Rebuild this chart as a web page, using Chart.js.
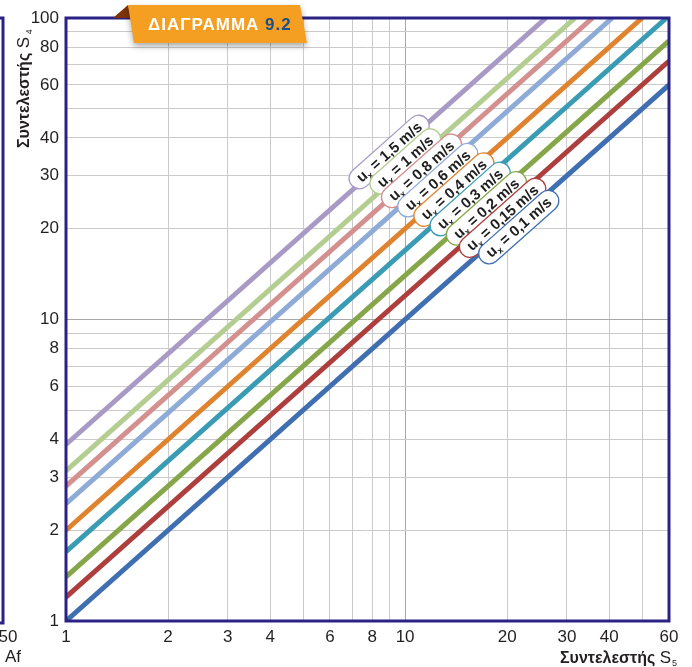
<!DOCTYPE html>
<html>
<head>
<meta charset="utf-8">
<script src="https://cdn.jsdelivr.net/npm/chart.js@4/dist/chart.umd.min.js"></script>
<style>
  html, body { margin: 0; padding: 0; background: #fff; }
  #wrap { width: 692px; height: 667px; position: relative; }
</style>
</head>
<body>
<div id="wrap"><canvas id="chart" width="692" height="667"></canvas></div>
<script>
// ταχύτητες (ετικέτες) και σημεία αρχής / τέλους κάθε ευθείας
const speeds = ['0,1', '0,15', '0,2', '0,3', '0,4', '0,6', '0,8', '1', '1,5'];
const startS4 = [1, 1.2, 1.4, 1.7, 2, 2.45, 2.8, 3.15, 3.85];
const endS5 = [60, 60, 60, 59, 50, 40.8, 35.7, 31.7, 26];
const endS4 = [60, 72, 84, 100, 100, 100, 100, 100, 100];
// κέντρο κάθε ετικέτας (S5, S4)
const labelS5 = [21.63, 19.38, 17.36, 15.55, 13.93, 12.48, 11.18, 10.01, 8.97];
const labelS4 = [20.24, 21.74, 23.36, 25.10, 26.97, 28.98, 31.13, 33.45, 35.94];
const colors = ['#3f6fb0', '#ad3e3d', '#86a64a', '#3a9cb4', '#e0832f',
                '#8eaad6', '#d48f8f', '#b4cd91', '#a79ac5'];

const xTicks = [1, 2, 3, 4, 6, 8, 10, 20, 30, 40, 60];
const yTicks = [1, 2, 3, 4, 6, 8, 10, 20, 30, 40, 60, 80, 100];
const xGrid = [1, 2, 3, 4, 5, 6, 7, 8, 9, 10, 20, 30, 40, 50, 60];
const yGrid = [1, 2, 3, 4, 5, 6, 7, 8, 9, 10, 20, 30, 40, 50, 60, 70, 80, 90, 100];

const NAVY = '#2b2384';
const FONT = '"Liberation Sans", Arial, sans-serif';

const datasets = speeds.map((s, i) => ({
  label: 'ux = ' + s + ' m/s',
  data: [{ x: 1, y: startS4[i] }, { x: endS5[i], y: endS4[i] }],
  borderColor: colors[i],
  borderWidth: 5,
  pointRadius: 0,
  fill: false,
  tension: 0
}));

// ετικέτες πάνω στις γραμμές, πλαίσιο, επικεφαλίδα
const decorations = {
  id: 'decorations',
  afterDatasetsDraw(chart) {
    const { ctx, scales: { x, y } } = chart;
    for (let i = speeds.length - 1; i >= 0; i--) {
      const x0 = x.getPixelForValue(1), y0 = y.getPixelForValue(startS4[i]);
      const x1 = x.getPixelForValue(endS5[i]), y1 = y.getPixelForValue(endS4[i]);
      const ang = Math.atan2(y1 - y0, x1 - x0);
      const cx = x.getPixelForValue(labelS5[i]);
      const cy = y.getPixelForValue(labelS4[i]);

      ctx.save();
      ctx.translate(cx, cy);
      ctx.rotate(ang);
      ctx.font = 'bold 15px ' + FONT;
      const rest = ' = ' + speeds[i] + ' m/s';
      const wu = ctx.measureText('u').width;
      const wr = ctx.measureText(rest).width;
      ctx.font = 'bold 9px ' + FONT;
      const wx = ctx.measureText('x').width;
      const tw = wu + wx + wr;
      const bw = tw + 18, bh = 21;
      ctx.beginPath();
      ctx.roundRect(-bw / 2, -bh / 2, bw, bh, bh / 2);
      ctx.fillStyle = '#fff';
      ctx.fill();
      ctx.lineWidth = 1.3;
      ctx.strokeStyle = colors[i];
      ctx.stroke();
      ctx.fillStyle = '#1e1e1e';
      ctx.textBaseline = 'alphabetic';
      let tx = -tw / 2;
      ctx.font = 'bold 15px ' + FONT;
      ctx.fillText('u', tx, 5);
      tx += wu;
      ctx.font = 'bold 9px ' + FONT;
      ctx.fillText('x', tx, 8);
      tx += wx;
      ctx.font = 'bold 15px ' + FONT;
      ctx.fillText(rest, tx, 5);
      ctx.restore();
    }
  },
  afterDraw(chart) {
    const { ctx, chartArea: a } = chart;
    ctx.save();
    // πλαίσιο περιοχής διαγράμματος
    ctx.strokeStyle = NAVY;
    ctx.lineWidth = 3;
    ctx.strokeRect(a.left, a.top, a.right - a.left, a.bottom - a.top);
    // κομμάτι του γειτονικού διαγράμματος
    ctx.beginPath();
    ctx.moveTo(0, a.top);
    ctx.lineTo(3, a.top);
    ctx.lineTo(3, a.bottom + 2);
    ctx.lineTo(0, a.bottom + 2);
    ctx.stroke();
    ctx.fillStyle = '#231f20';
    ctx.font = '17px ' + FONT;
    ctx.textAlign = 'center';
    ctx.textBaseline = 'middle';
    ctx.fillText('50', 8, 637);
    ctx.textAlign = 'left';
    ctx.fillText('Af', 5, 657);

    // τίτλος άξονα x
    ctx.textBaseline = 'alphabetic';
    ctx.font = 'bold 16px ' + FONT;
    ctx.fillText('Συντελεστής', 560, 663);
    let w = ctx.measureText('Συντελεστής ').width;
    ctx.font = '17px ' + FONT;
    ctx.fillText('S', 560 + w, 663);
    const ws = ctx.measureText('S').width;
    ctx.font = '9px ' + FONT;
    ctx.fillText('5', 560 + w + ws + 1, 666);

    // τίτλος άξονα y
    ctx.save();
    ctx.translate(29, 148);
    ctx.rotate(-Math.PI / 2);
    ctx.font = 'bold 16px ' + FONT;
    ctx.fillText('Συντελεστής', 0, 0);
    w = ctx.measureText('Συντελεστής ').width;
    ctx.font = '17px ' + FONT;
    ctx.fillText('S', w, 0);
    ctx.font = '9px ' + FONT;
    ctx.fillText('4', w + ctx.measureText('S').width + 8, 3);
    ctx.restore();

    // επικεφαλίδα "ΔΙΑΓΡΑΜΜΑ 9.2"
    ctx.fillStyle = '#7e3408';
    ctx.beginPath();
    ctx.moveTo(113, 18);
    ctx.lineTo(128, 5);
    ctx.lineTo(132, 18);
    ctx.closePath();
    ctx.fill();
    ctx.shadowColor = 'rgba(0,0,0,0.35)';
    ctx.shadowBlur = 6;
    ctx.shadowOffsetY = 3;
    ctx.fillStyle = '#f59f22';
    ctx.beginPath();
    ctx.moveTo(128, 5);
    ctx.lineTo(300, 5);
    ctx.lineTo(307, 43);
    ctx.lineTo(134, 43);
    ctx.closePath();
    ctx.fill();
    ctx.shadowColor = 'transparent';
    ctx.font = 'bold 17px ' + FONT;
    ctx.letterSpacing = '1px';
    ctx.fillStyle = '#fff';
    ctx.textBaseline = 'middle';
    ctx.fillText('ΔΙΑΓΡΑΜΜΑ', 148, 25);
    const wd = ctx.measureText('ΔΙΑΓΡΑΜΜΑ ').width;
    ctx.fillStyle = '#17508d';
    ctx.fillText('9.2', 148 + wd, 25);
    ctx.restore();
  }
};

const gridColor = (c) => (c.tick && c.tick.value === 10 ? '#a8a8a8' : '#cbcbcb');

new Chart(document.getElementById('chart'), {
  type: 'line',
  data: { datasets },
  options: {
    responsive: false,
    animation: false,
    layout: { padding: { top: 18, right: 23, left: 0, bottom: 0 } },
    plugins: { legend: { display: false }, tooltip: { enabled: false } },
    scales: {
      x: {
        type: 'logarithmic',
        min: 1, max: 60,
        afterBuildTicks: (ax) => { ax.ticks = xGrid.map(v => ({ value: v })); },
        afterFit: (ax) => { ax.height = 46; },
        grid: { color: gridColor, lineWidth: 1, drawTicks: false },
        border: { display: false },
        ticks: {
          autoSkip: false, maxRotation: 0, padding: 6,
          color: '#231f20', font: { family: FONT, size: 17 },
          callback: (v) => (xTicks.includes(v) ? String(v) : '')
        }
      },
      y: {
        type: 'logarithmic',
        min: 1, max: 100,
        afterBuildTicks: (ax) => { ax.ticks = yGrid.map(v => ({ value: v })); },
        afterFit: (ax) => { ax.width = 66; },
        grid: { color: gridColor, lineWidth: 1, drawTicks: false },
        border: { display: false },
        ticks: {
          autoSkip: false, padding: 7,
          color: '#231f20', font: { family: FONT, size: 17 },
          callback: (v) => (yTicks.includes(v) ? String(v) : '')
        }
      }
    }
  },
  plugins: [decorations]
});
</script>
</body>
</html>
